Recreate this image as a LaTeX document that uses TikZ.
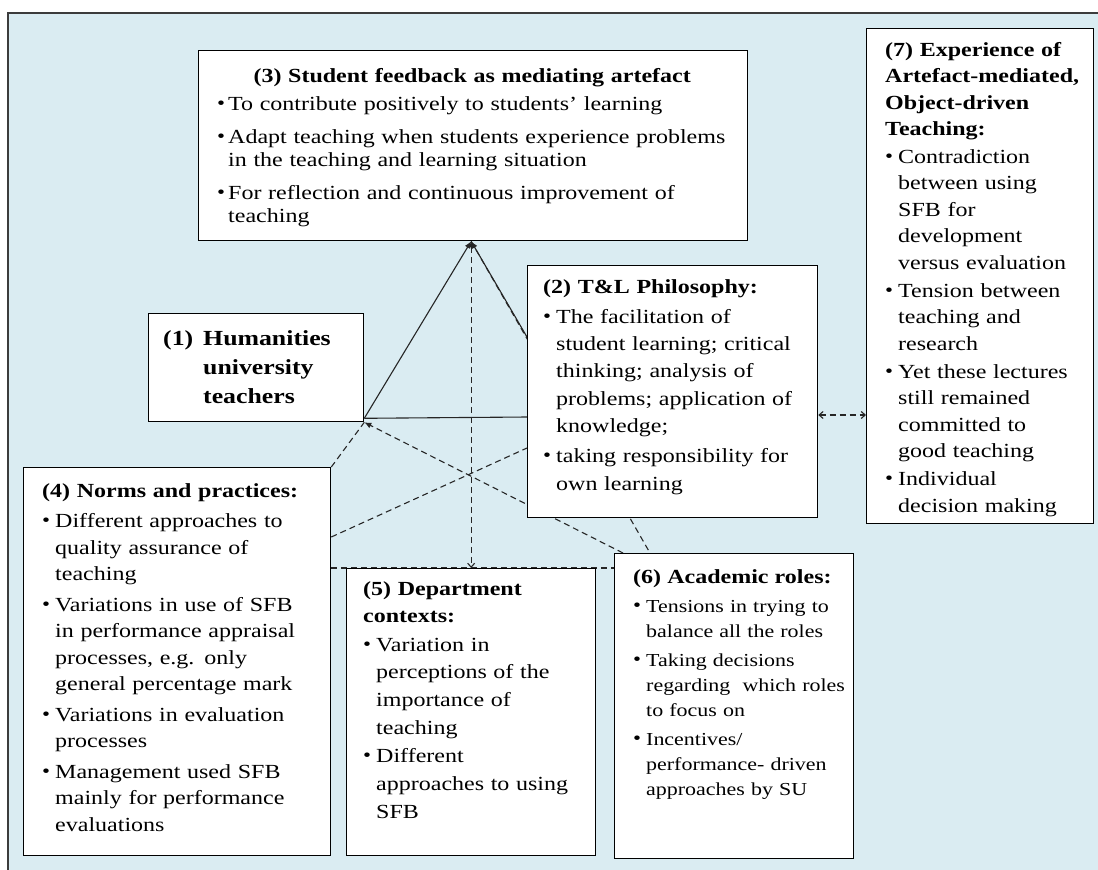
\documentclass[tikz,border=0pt]{standalone}
\usepackage{fontspec}
\setmainfont[FakeStretch=1.2]{Liberation Serif}
\usetikzlibrary{arrows.meta}
\definecolor{paneblue}{RGB}{218,236,242}
\definecolor{edgegray}{RGB}{60,60,60}
\newlength\bulwd \setlength\bulwd{13pt}
\newlength\itemgap
\newcommand\bul{\par\vspace{\itemgap}\hangindent=\bulwd\hangafter=1\noindent
  \makebox[\bulwd][l]{\raisebox{0.05em}{\fontsize{19}{19}\selectfont\textbullet}}}
\pgfdeclarelayer{base}
\pgfdeclarelayer{links}
\pgfsetlayers{base,links,main}
\begin{document}
\begin{tikzpicture}[x=1pt,y=-1pt,
  panel/.style={draw=black, fill=white, line width=1.3pt, inner sep=0pt, anchor=north west},
  txt/.style={anchor=base west, inner sep=0pt, align=left},
  link/.style={line width=1.1pt, draw=black!85},
  dlink/.style={link, dash pattern=on 6pt off 4pt},
  fill tip/.style={-{Latex[length=7pt,width=6pt]}}]

\useasboundingbox (0,0) rectangle (1098,870);
\clip (0,0) rectangle (1098,870);

% page and framed panel
\begin{pgfonlayer}{base}
  \fill[white] (0,0) rectangle (1098,870);
  \draw[fill=paneblue, draw=edgegray, line width=2.2pt] (8,13) rectangle (1110,885);
\end{pgfonlayer}

% boxes
\node[panel, minimum width=549pt, minimum height=190pt] (b3) at (198,50) {};
\node[panel, minimum width=290pt, minimum height=252pt] (b2) at (527,265) {};
\node[panel, minimum width=215pt, minimum height=108pt] (b1) at (148,313) {};
\node[panel, minimum width=227pt, minimum height=495pt] (b7) at (866,28) {};
\node[panel, minimum width=307pt, minimum height=388pt] (b4) at (23,467) {};
\node[panel, minimum width=249pt, minimum height=287pt] (b5) at (346,568) {};
\node[panel, minimum width=239pt, minimum height=305pt] (b6) at (614,553) {};

% connectors
\begin{pgfonlayer}{links}
  \coordinate (apex) at (b5.north |- b3.south);
  \draw[link, fill tip] ([yshift=4pt]b1.south east) -- (apex);
  \draw[link, fill tip] ([yshift=-72pt]b2.north west) -- (apex);
  \draw[link] ([yshift=-152pt]b2.north west) -- ([yshift=4pt]b1.south east);
  \draw[dlink] (b4.north east) -- (b1.south east);
  \draw[dlink, fill tip] ([xshift=9pt]b6.north west) -- (b1.south east);
  \draw[dlink] ([yshift=-70pt]b4.north east) -- ([yshift=-183pt]b2.north west);
  \draw[dlink] (apex) -- ([xshift=36pt]b6.north west);
  \draw[dlink] ([yshift=-101pt]b4.north east) -- ([yshift=-15pt]b6.north west);
  \draw[dlink, {Latex[length=6pt,width=5pt]}-{Straight Barb[length=4pt,width=7pt]}] (apex) -- (b5.north);
  \coordinate (p27) at ([yshift=-150pt]b2.north east);
  \draw[dlink, {Straight Barb[length=4pt,width=7pt]}-{Straight Barb[length=4pt,width=7pt]}] (p27) -- (p27 -| b7.west);
\end{pgfonlayer}

% box texts
\node[txt, text width=525pt, font=\fontsize{20}{23}\selectfont] (t3) at (217,82) {\setlength\itemgap{10pt}\setlength\bulwd{11pt}%
\makebox[510pt]{\bfseries (3) Student feedback as mediating artefact}\par\vspace{-5pt}%
\bul To contribute positively to students’ learning
\bul Adapt teaching when students experience problems\newline in the teaching and learning situation
\bul For reflection and continuous improvement of\newline teaching\par};

\node[txt, text width=280pt, font=\fontsize{20}{27.4}\selectfont] (t2) at (543,293) {\setlength\itemgap{2.6pt}%
\textbf{(2) T\&L Philosophy:}
\bul The facilitation of\newline student learning; critical\newline thinking; analysis of\newline problems; application of\newline knowledge;
\bul taking responsibility for\newline own learning\par};

\node[txt, text width=210pt, font=\fontsize{21.5}{29}\selectfont\bfseries] (t1) at (163,345) {%
\hangindent=40pt\hangafter=1\noindent\makebox[40pt][l]{(1)}Humanities\newline university\newline teachers\par};

\node[txt, text width=320pt, font=\fontsize{20}{26.5}\selectfont] (t4) at (42,497) {\setlength\itemgap{4pt}%
\textbf{(4) Norms and practices:}
\bul Different approaches to\newline quality assurance of\newline teaching
\bul Variations in use of SFB\newline in performance appraisal\newline processes, e.g. only\newline general percentage mark
\bul Variations in evaluation\newline processes
\bul Management used SFB\newline mainly for performance\newline evaluations\par};

\node[txt, text width=260pt, font=\fontsize{20}{27.8}\selectfont] (t5) at (363,595) {\setlength\itemgap{0.5pt}%
\textbf{(5) Department\newline contexts:}
\bul Variation in\newline perceptions of the\newline importance of\newline teaching
\bul Different\newline approaches to using\newline SFB\par};

\node[txt, text width=260pt, font=\fontsize{18.3}{25}\selectfont] (t6) at (633,583) {\setlength\itemgap{4pt}%
{\fontsize{20}{25}\selectfont\bfseries (6) Academic roles:}
\bul Tensions in trying to\newline balance all the roles
\bul Taking decisions\newline regarding\ \ which roles\newline to focus on
\bul Incentives/\newline performance- driven\newline approaches by SU\par};

\node[txt, text width=240pt, font=\fontsize{20}{26.5}\selectfont] (t7) at (885,56) {\setlength\itemgap{1.5pt}%
\textbf{(7) Experience of\newline Artefact-mediated,\newline Object-driven\newline Teaching:}
\bul Contradiction\newline between using\newline SFB for\newline development\newline versus evaluation
\bul Tension between\newline teaching and\newline research
\bul Yet these lectures\newline still remained\newline committed to\newline good teaching
\bul Individual\newline decision making\par};
\end{tikzpicture}
\end{document}
